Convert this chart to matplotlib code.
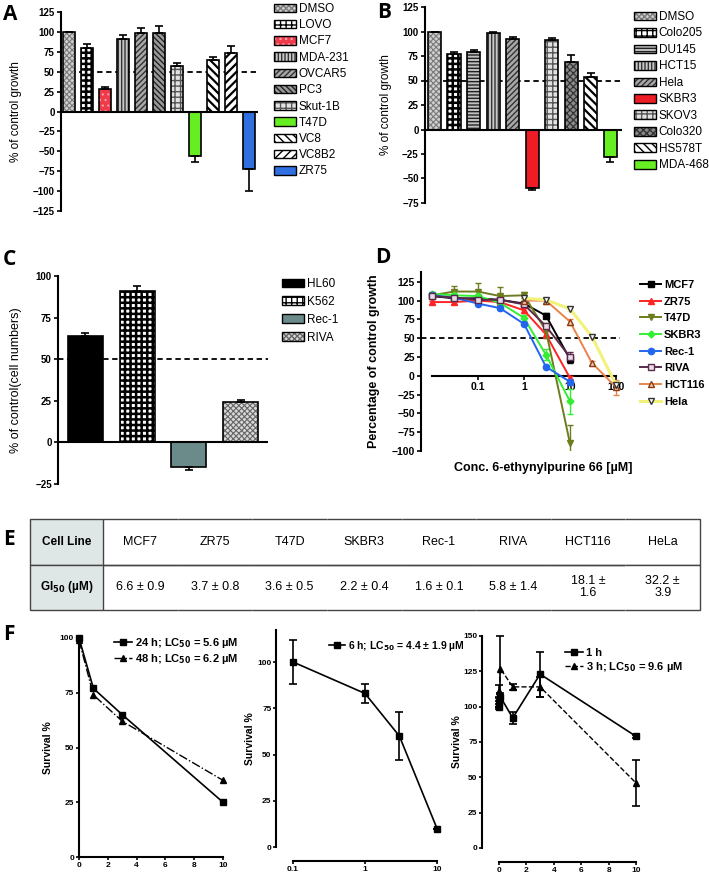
import matplotlib
matplotlib.use('Agg')
import matplotlib.pyplot as plt
import matplotlib.transforms as mtransforms
from matplotlib.patches import Patch
import numpy as np

# ---- panel A : single dose screen ----
A_cells = ['DMSO', 'LOVO', 'MCF7', 'MDA-231', 'OVCAR5', 'PC3', 'Skut-1B',
           'T47D', 'VC8', 'VC8B2', 'ZR75']
A_vals = [100, 80, 28, 91, 98, 98, 57, -56, 65, 74, -72]
A_err = [0, 5, 3, 5, 7, 10, 4, 8, 3.5, 8, 28]

# ---- panel B ----
B_cells = ['DMSO', 'Colo205', 'DU145', 'HCT15', 'Hela', 'SKBR3', 'SKOV3',
           'Colo320', 'HS578T', 'MDA-468']
B_vals = [100, 77, 79, 98, 92, -60, 91, 69, 54, -28]
B_err = [0, 2, 2, 2, 2, 2, 2, 7, 3.5, 5.5]

# ---- panel C ----
C_cells = ['HL60', 'K562', 'Rec-1', 'RIVA']
C_vals = [64, 91, -14.5, 24]
C_err = [2, 3, 2, 1.5]

# ---- panel D : dose response ----
D_conc = [0.01, 0.03, 0.1, 0.3, 1, 3, 10]
D_conc_hi = [1, 3, 10, 30, 100]
D_mcf7 = [106, 103, 103, 101, 96, 80, 22]
D_mcf7_err = [2, 2, 2, 2, 2, 3, 5]
D_zr75 = [98, 98, 100, 98, 87, 55, -3]
D_zr75_err = [2, 2, 2, 2, 3, 5, 3]
D_t47d = [107, 112, 112, 106, 107, 60, -90]
D_t47d_err = [3, 8, 12, 12, 4, 10, 25]
D_skbr3 = [109, 107, 106, 97, 77, 28, -34]
D_skbr3_err = [2, 3, 3, 3, 4, 7, 17]
D_rec1 = [107, 104, 96, 90, 69, 12, -8]
D_rec1_err = [2, 2, 2, 3, 2, 2, 4]
D_riva = [106, 104, 101, 101, 95, 66, 25]
D_riva_err = [2, 2, 2, 2, 3, 3, 6]
D_hct116 = [100, 100, 72, 17, -15]
D_hct116_err = [3, 4, 4, 3, 10]
D_hela = [103, 101, 89, 52, -12]
D_hela_err = [2, 3, 3, 3, 5]

# ---- panel E : GI50 table ----
E_lines = ['MCF7', 'ZR75', 'T47D', 'SKBR3', 'Rec-1', 'RIVA', 'HCT116', 'HeLa']
E_gi50 = ['6.6 ± 0.9', '3.7 ± 0.8', '3.6 ± 0.5', '2.2 ± 0.4', '1.6 ± 0.1',
          '5.8 ± 1.4', '18.1 ±\n1.6', '32.2 ±\n3.9']

# ---- panel F : survival ----
F1_conc = [0, 1, 3, 10]
F1_24h = [100, 77, 65, 25]
F1_48h = [99, 74, 62, 35]
F2_conc = [0.1, 1, 3, 10]
F2_6h = [100, 83, 60, 10]
F2_6h_err = [12, 5, 13, 0]
F3_conc = [0, 0.03, 0.1, 1, 3, 10]
F3_1h = [100, 103, 107, 92, 123, 79]
F3_1h_err = [2, 3, 3, 4, 16, 1]
F3_3h = [102, 111, 127, 114, 114, 46]
F3_3h_err = [2, 4, 23, 2, 7, 16]

W, H = 709, 873
plt.rcParams['font.family'] = ['Liberation Sans', 'DejaVu Sans']
plt.rcParams['font.weight'] = 'bold'
plt.rcParams['axes.labelweight'] = 'bold'
fig = plt.figure(figsize=(W / 100, H / 100), dpi=100)

# bar fill styles: (face, hatch, hatch colour, hatch linewidth)
grey_x = ('#cfcfcf', 'xxxxxx', '#7a7a7a', 0.8)
checker = ('white', '+++', 'black', 1.8)
vlines = ('#c8c8c8', '|||||', '#333333', 1.0)
diag_g = ('#a8a8a8', '//////', '#333333', 1.0)
grid_l = ('#e2e2e2', '+++', '#555555', 1.0)
A_styles = [grey_x, checker, ('#ee3a4a', '...', '#f9a0a8', 0.8), vlines, diag_g,
            ('#9a9a9a', '\\\\\\\\\\\\', '#222222', 1.0), grid_l,
            ('#66ee22', '', '#66ee22', 1), ('white', '\\\\\\\\', 'black', 1.6),
            ('white', '////', 'black', 1.6), ('#2f6fe0', '', '#2f6fe0', 1)]
B_styles = [grey_x, checker, ('#c0c0c0', '-----', '#222222', 1.0), vlines, diag_g,
            ('#ee1c24', '', '#ee1c24', 1), grid_l, ('#8a8a8a', 'xxxxx', '#333333', 0.9),
            ('white', '\\\\\\\\', 'black', 1.6), ('#66ee22', '', '#66ee22', 1)]
C_styles = [('black', '', 'black', 1), checker, ('#6b8b8b', '', '#6b8b8b', 1),
            ('#d8d8d8', 'xxxxxx', '#666666', 0.8)]


def add_ax(l, t, r, b):
    return fig.add_axes([l / W, 1 - b / H, (r - l) / W, (b - t) / H])


def style_ax(ax, size, length=3, pad=1.5):
    for s in ['top', 'right']:
        ax.spines[s].set_visible(False)
    for s in ['left', 'bottom']:
        ax.spines[s].set_linewidth(1.5)
    ax.tick_params(direction='out', length=length, width=1.2, labelsize=size, pad=pad)
    ax.set_facecolor('none')


def ylabel_at(ax, text, xpx, **kw):
    ax.set_ylabel(text, **kw)
    tr = mtransforms.blended_transform_factory(fig.transFigure, ax.transAxes)
    ax.yaxis.set_label_coords(xpx / W, 0.5, transform=tr)


def bar_panel(ax, cells, vals, errs, styles, width):
    x = np.arange(len(cells))
    handles = []
    for i, (face, hatch, hc, hlw) in enumerate(styles):
        with plt.rc_context({'hatch.linewidth': hlw}):
            bars = ax.bar(x[i], vals[i], width, color=face, edgecolor=hc,
                          hatch=hatch, lw=0, zorder=2)
            p = Patch(facecolor=face, edgecolor=hc, hatch=hatch, lw=0)
        for b in list(bars) + [p]:
            if hasattr(b, 'set_hatch_linewidth'):
                b.set_hatch_linewidth(hlw)
        handles.append((p, Patch(fill=False, edgecolor='black', lw=1)))
    ax.bar(x, vals, width, fill=False, edgecolor='black', lw=1.2, zorder=3)
    lo = [e if v < 0 else 0 for v, e in zip(vals, errs)]
    hi = [e if v >= 0 else 0 for v, e in zip(vals, errs)]
    ax.errorbar(x, vals, yerr=[lo, hi], fmt='none', ecolor='black',
                elinewidth=1.2, capsize=3, capthick=1.2, zorder=4)
    ax.axhline(50, color='black', lw=1.3, ls=(0, (3, 2)), zorder=1)
    ax.axhline(0, color='black', lw=1.5, zorder=5)
    ax.spines['bottom'].set_visible(False)
    ax.set_xticks([])
    return handles


def bar_legend(ax, handles, labels, xpx, ypx, size, spacing):
    ax.legend(handles, labels, loc='upper left', frameon=False,
              bbox_to_anchor=(xpx / W, 1 - ypx / H), bbox_transform=fig.transFigure,
              borderaxespad=0, borderpad=0, handlelength=1.9, handleheight=0.75,
              handletextpad=0.2, labelspacing=spacing,
              prop={'size': size, 'weight': 'normal'})


# ---------------- A ----------------
axA = add_ax(61, 12, 258, 211)
style_ax(axA, 7)
hA = bar_panel(axA, A_cells, A_vals, A_err, A_styles, 0.65)
axA.set_xlim(-0.45, 10.5)
axA.set_ylim(-125, 125)
axA.set_yticks(np.arange(-125, 126, 25))
ylabel_at(axA, '% of control growth', 22, fontsize=8.5, fontweight='normal')
bar_legend(axA, hA, A_cells, 274, 3, 8.5, 0.36)

# ---------------- B ----------------
axB = add_ax(425, 7, 622, 203)
style_ax(axB, 7)
hB = bar_panel(axB, B_cells, B_vals, B_err, B_styles, 0.68)
axB.set_xlim(-0.49, 9.6)
axB.set_ylim(-75, 125)
axB.set_yticks(np.arange(-75, 126, 25))
ylabel_at(axB, '% of control growth', 392, fontsize=8.5, fontweight='normal')
bar_legend(axB, hB, B_cells, 634, 11, 8.5, 0.38)

# ---------------- C ----------------
axC = add_ax(58, 276, 268, 484)
style_ax(axC, 7)
hC = bar_panel(axC, C_cells, C_vals, C_err, C_styles, 0.68)
axC.set_xlim(-0.53, 3.53)
axC.set_ylim(-25, 100)
axC.set_yticks(np.arange(-25, 101, 25))
ylabel_at(axC, '% of control(cell numbers)', 22, fontsize=9, fontweight='normal')
bar_legend(axC, hC, C_cells, 282, 278, 8.5, 0.5)

# ---------------- D ----------------
axD = add_ax(421, 272, 620, 451)
style_ax(axD, 7.5)
axD.set_xscale('log')
axD.set_xlim(10 ** -2.239, 10 ** 2.087)
axD.set_ylim(-100, 138)
axD.axhline(50, color='black', lw=1.3, ls=(0, (3, 2)), zorder=1)
D_series = [
    ('MCF7', D_conc, D_mcf7, D_mcf7_err, 'black', 's', 'black', 'black'),
    ('ZR75', D_conc, D_zr75, D_zr75_err, '#ff2424', '^', '#ff2424', '#ff2424'),
    ('T47D', D_conc, D_t47d, D_t47d_err, '#6d7d1e', 'v', '#6d7d1e', '#6d7d1e'),
    ('SKBR3', D_conc, D_skbr3, D_skbr3_err, '#33ee33', 'D', '#33ee33', '#33ee33'),
    ('Rec-1', D_conc, D_rec1, D_rec1_err, '#2266ee', 'o', '#2266ee', '#2266ee'),
    ('RIVA', D_conc, D_riva, D_riva_err, '#5a2a4a', 's', '#e8dde8', '#5a2a4a'),
    ('HCT116', D_conc_hi, D_hct116, D_hct116_err, '#e8844a', '^', '#f7c9a8', '#8a3a10'),
    ('Hela', D_conc_hi, D_hela, D_hela_err, '#f2f27a', 'v', 'white', '#333333'),
]
hD = []
for name, xs, ys, es, col, mk, mfc, mec in D_series:
    axD.errorbar(xs, ys, yerr=es, fmt='none', ecolor=col, elinewidth=1,
                 capsize=2.5, capthick=1, zorder=3)
    ln, = axD.plot(xs, ys, color=col, lw=1.4 if name != 'Hela' else 2.2,
                   marker=mk, ms=4.5 if mk != 'D' else 3.5, mfc=mfc, mec=mec,
                   mew=1, zorder=4, clip_on=False, label=name)
    hD.append(ln)
axD.spines['bottom'].set_position(('data', 0))
axD.spines['bottom'].set_bounds(0.01, 100)
axD.set_xticks([0.1, 1, 10, 100])
axD.set_xticklabels(['0.1', '1', '10', '100'])
axD.xaxis.set_minor_locator(matplotlib.ticker.NullLocator())
axD.set_yticks(np.arange(-100, 126, 25))
axD.set_xlabel('Conc. 6-ethynylpurine 66 [µM]', fontsize=9)
axD.xaxis.set_label_coords(543 / W, 1 - 462 / H, transform=fig.transFigure)
ylabel_at(axD, 'Percentage of control growth', 380, fontsize=9)
axD.legend(handles=hD, loc='upper left', frameon=False,
           bbox_to_anchor=(640 / W, 1 - 280 / H), bbox_transform=fig.transFigure,
           borderaxespad=0, borderpad=0, handlelength=1.9, handletextpad=0.25,
           labelspacing=0.6, prop={'size': 8, 'weight': 'bold'})

# ---------------- E ----------------
axE = add_ax(30, 519, 700, 610)
axE.axis('off')
widths = [73] + [74.6] * len(E_lines)
tab = axE.table(cellText=[['Cell Line'] + E_lines,
                          [r'GI$_{50}$ (µM)'] + E_gi50],
                cellLoc='center', bbox=[0, 0, 1, 1],
                colWidths=[w / sum(widths) for w in widths])
tab.auto_set_font_size(False)
ncol = len(E_lines) + 1
for (r, c), cell in tab.get_celld().items():
    cell.set_edgecolor('#444444')
    cell.set_linewidth(1.0)
    txt = cell.get_text()
    txt.set_fontsize(9)
    txt.set_linespacing(1.0)
    if c == 0:
        cell.set_facecolor('#dfe6e6')
        cell.visible_edges = 'closed'
        txt.set_fontweight('bold')
        txt.set_fontsize(8.5)
    else:
        cell.visible_edges = 'TBR' if c == ncol - 1 else 'TB'
        txt.set_fontweight('normal')

# ---------------- F ----------------
f_tick = 6
axF1 = add_ax(79, 638, 223, 857)
style_ax(axF1, f_tick, length=2.5, pad=1)
axF1.plot(F1_conc, F1_24h, color='black', lw=1.2, marker='s', ms=4,
          clip_on=False, label=r'24 h; LC$_{\mathbf{50}}$ = 5.6 µM')
axF1.plot(F1_conc, F1_48h, color='black', lw=1.0, ls='-.', marker='^', ms=4,
          clip_on=False, label=r'48 h; LC$_{\mathbf{50}}$ = 6.2 µM')
axF1.set_xlim(0, 10)
axF1.set_ylim(0, 100)
axF1.set_xticks(np.arange(0, 11, 2))
axF1.set_yticks(np.arange(0, 101, 25))
ylabel_at(axF1, 'Survival %', 53, fontsize=7.5)
axF1.legend(loc='upper left', frameon=False, bbox_to_anchor=(114 / W, 1 - 636 / H),
            bbox_transform=fig.transFigure, borderaxespad=0, borderpad=0,
            handlelength=1.6, handletextpad=0.3, labelspacing=0.2,
            prop={'size': 8, 'weight': 'bold'})

axF2 = add_ax(293, 630, 437, 847)
style_ax(axF2, f_tick, length=2.5, pad=1)
axF2.set_xscale('log')
axF2.errorbar(F2_conc, F2_6h, yerr=F2_6h_err, color='black', lw=1.2,
              marker='s', ms=4, capsize=3, elinewidth=1.2, capthick=1.2,
              clip_on=False, label=r'6 h; LC$_{\mathbf{50}}$ = 4.4 ± 1.9 µM')
axF2.set_xlim(0.1, 10)
axF2.set_ylim(0, 117.3)
axF2.spines['left'].set_position(('outward', 12))
axF2.spines['bottom'].set_position(('outward', 10))
axF2.set_xticks([0.1, 1, 10])
axF2.set_xticklabels(['0.1', '1', '10'])
axF2.xaxis.set_minor_locator(matplotlib.ticker.NullLocator())
axF2.set_yticks(np.arange(0, 101, 25))
ylabel_at(axF2, 'Survival %', 255, fontsize=7.5)
hF2, lF2 = axF2.get_legend_handles_labels()
axF2.legend([h[0] for h in hF2], lF2, loc='upper left', frameon=False,
            bbox_to_anchor=(329 / W, 1 - 639 / H), bbox_transform=fig.transFigure,
            borderaxespad=0, borderpad=0, handlelength=1.5, handletextpad=0.3,
            prop={'size': 7.5, 'weight': 'bold'})

axF3 = add_ax(499, 636, 636, 848)
style_ax(axF3, f_tick, length=2.5, pad=1)
e1 = axF3.errorbar(F3_conc, F3_1h, yerr=F3_1h_err, color='black', lw=1.2,
                   marker='s', ms=4, capsize=3, elinewidth=1.2, capthick=1.2,
                   clip_on=False)
e3 = axF3.errorbar(F3_conc, F3_3h, yerr=F3_3h_err, color='black', lw=1.0,
                   ls='--', marker='^', ms=4, capsize=3, elinewidth=1.2,
                   capthick=1.2, clip_on=False)
axF3.set_xlim(0, 10)
axF3.set_ylim(0, 150)
axF3.spines['left'].set_position(('outward', 12))
axF3.spines['bottom'].set_position(('outward', 10))
axF3.set_xticks(np.arange(0, 11, 2))
axF3.set_yticks(np.arange(0, 151, 25))
ylabel_at(axF3, 'Survival %', 462, fontsize=7.5)
axF3.legend([e1[0], e3[0]], ['1 h', r'3 h; LC$_{\mathbf{50}}$ = 9.6 µM'],
            loc='upper left', frameon=False,
            bbox_to_anchor=(565 / W, 1 - 648 / H), bbox_transform=fig.transFigure,
            borderaxespad=0, borderpad=0, handlelength=1.6, handletextpad=0.3,
            labelspacing=0.2, prop={'size': 8, 'weight': 'bold'})

# panel letters
for letter, xp, yp in [('A', 3, 20), ('B', 377, 18), ('C', 3, 265), ('D', 375, 263),
                       ('E', 3, 545), ('F', 3, 640)]:
    fig.text(xp / W, 1 - yp / H, letter, fontsize=15, fontweight='bold',
             ha='left', va='baseline', family=['Open Sans', 'DejaVu Sans'])

fig.savefig('out.png', dpi=100)
